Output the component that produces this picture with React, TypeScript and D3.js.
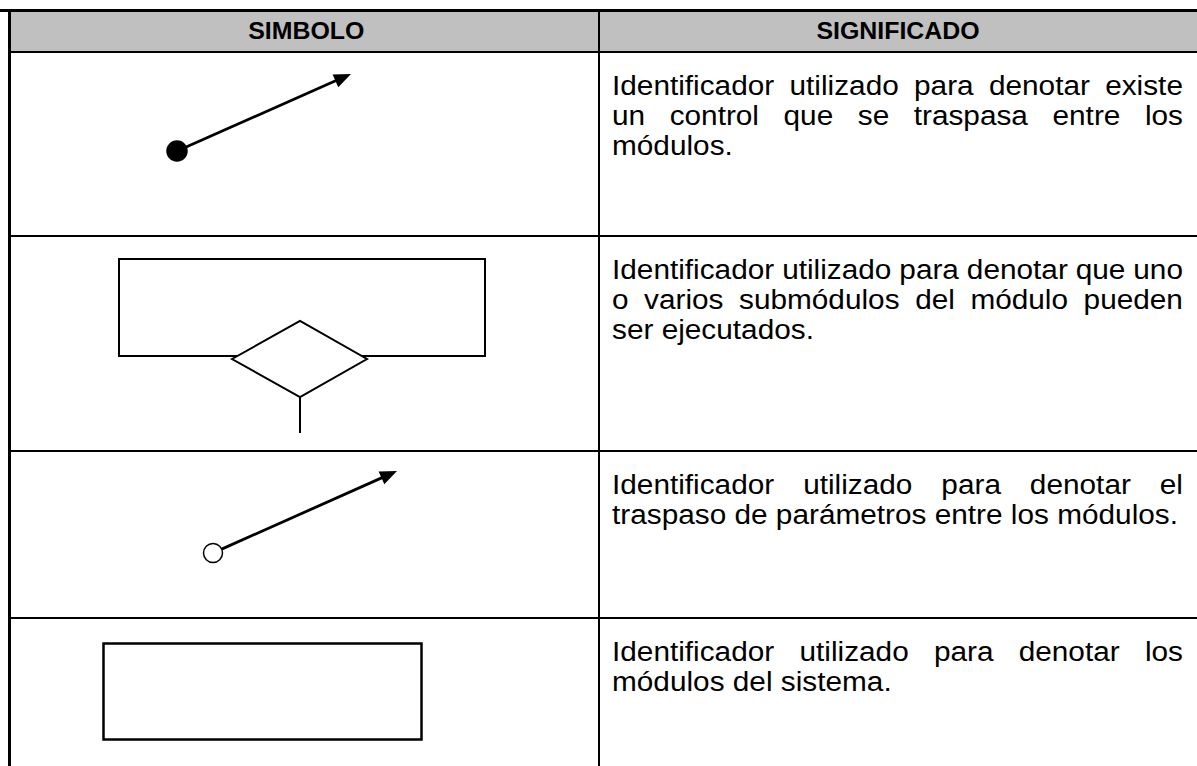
import React from "react";
import * as d3 from "d3";

const headers = ["SIMBOLO", "SIGNIFICADO"];
const symbols = ["control", "selection", "params", "module"];
const meanings = [
  ["Identificador utilizado para denotar existe", "un control que se traspasa entre los", "módulos."],
  ["Identificador utilizado para denotar que uno", "o varios submódulos del módulo pueden", "ser ejecutados."],
  ["Identificador utilizado para denotar el", "traspaso de parámetros entre los módulos."],
  ["Identificador utilizado para denotar los", "módulos del sistema."],
];

const W = 1197;
const H = 766;
const FONT = "'Liberation Sans', Arial, Helvetica, sans-serif";
const bodySize = 28;
const sx = 1.064;
const headSize = 23.5;
const headSx = 1.06;

// row boundaries (header bottom, then each row)
const rowEdges = [52, 236, 451, 618, 800];
const colX = [9.5, 599, W];
const textLeft = 612;
const textRight = 1183;

let ctx: CanvasRenderingContext2D | null = null;
function measure(s: string) {
  if (!ctx) {
    ctx = document.createElement("canvas").getContext("2d");
    if (ctx) ctx.font = `${bodySize}px 'Liberation Sans', Arial, sans-serif`;
  }
  return ctx ? ctx.measureText(s).width : s.length * bodySize * 0.5;
}

function JustifiedLine({ text, y, last }: { text: string; y: number; last: boolean }) {
  const avail = (textRight - textLeft) / sx;
  const words = text.split(" ");
  if (last || words.length < 2) {
    return (
      <text x={0} y={y} transform={`translate(${textLeft},0) scale(${sx},1)`}>
        {text}
      </text>
    );
  }
  const widths = words.map(measure);
  const gap = (avail - d3.sum(widths)) / (words.length - 1);
  let x = 0;
  const xs = widths.map((w) => {
    const cur = x;
    x += w + gap;
    return cur;
  });
  return (
    <g transform={`translate(${textLeft},0) scale(${sx},1)`}>
      {words.map((w, i) => (
        <text key={i} x={xs[i]} y={y}>
          {w}
        </text>
      ))}
    </g>
  );
}

function Arrow({ from, to, r, filled }: { from: [number, number]; to: [number, number]; r: number; filled: boolean }) {
  const ang = Math.atan2(to[1] - from[1], to[0] - from[0]);
  const len = 17;
  const hw = 7;
  const bx = to[0] - len * Math.cos(ang);
  const by = to[1] - len * Math.sin(ang);
  const nx = -Math.sin(ang);
  const ny = Math.cos(ang);
  const head: [number, number][] = [
    to,
    [bx + nx * hw, by + ny * hw],
    [bx - nx * hw, by - ny * hw],
  ];
  const sx0 = from[0] + r * Math.cos(ang);
  const sy0 = from[1] + r * Math.sin(ang);
  const line = d3.line();
  return (
    <g>
      <path d={line([[sx0, sy0], [bx + 2 * Math.cos(ang), by + 2 * Math.sin(ang)]]) || ""} stroke="#000" strokeWidth={2.8} fill="none" />
      <path d={(line(head) || "") + "Z"} fill="#000" />
      <circle cx={from[0]} cy={from[1]} r={r} fill={filled ? "#000" : "#fff"} stroke="#000" strokeWidth={1.5} />
    </g>
  );
}

function Symbol({ kind }: { kind: string }) {
  if (kind === "control") return <Arrow from={[177, 151]} to={[351, 74]} r={10} filled />;
  if (kind === "params") return <Arrow from={[213, 553]} to={[397, 471]} r={9.5} filled={false} />;
  if (kind === "selection") {
    const diamond: [number, number][] = [[232, 359], [300, 321], [367, 359], [300, 397]];
    return (
      <g stroke="#000" strokeWidth={2} fill="none">
        <rect x={119} y={259} width={366} height={97} />
        <path d={(d3.line()(diamond) || "") + "Z"} fill="#fff" />
        <line x1={300} y1={397} x2={300} y2={433} />
      </g>
    );
  }
  return <rect x={103.5} y={643.5} width={318} height={96} stroke="#000" strokeWidth={2.5} fill="none" />;
}

export default function App() {
  const lineStep = 30;
  return (
    <svg width={W} height={H} style={{ position: "absolute", left: 0, top: 0 }} fontFamily={FONT}>
      <rect x={0} y={0} width={W} height={H} fill="#fff" />
      <rect x={colX[0]} y={10.5} width={W - colX[0]} height={rowEdges[0] - 10.5} fill="#c0c0c0" />
      <g fontWeight="bold" fontSize={headSize} textAnchor="middle" fill="#000">
        {headers.map((h, i) => {
          const cx = (colX[i] + colX[i + 1]) / 2 + (i === 0 ? 2 : 0);
          return (
            <text key={h} x={0} y={39.5} transform={`translate(${cx},0) scale(${headSx},1)`}>
              {h}
            </text>
          );
        })}
      </g>
      {/* grid lines */}
      <g stroke="#000">
        <line x1={0} x2={W} y1={10.5} y2={10.5} strokeWidth={3} />
        <line x1={9.5} x2={9.5} y1={9} y2={H} strokeWidth={3} />
        <line x1={599} x2={599} y1={10} y2={H} strokeWidth={2} />
        {rowEdges.slice(0, 4).map((y) => (
          <line key={y} x1={9} x2={W} y1={y} y2={y} strokeWidth={2} />
        ))}
      </g>
      {symbols.map((s) => (
        <Symbol key={s} kind={s} />
      ))}
      <g fontSize={bodySize} fill="#000">
        {meanings.map((lines, r) =>
          lines.map((t, j) => (
            <JustifiedLine key={`${r}-${j}`} text={t} y={rowEdges[r] + 43 + j * lineStep} last={j === lines.length - 1} />
          ))
        )}
      </g>
    </svg>
  );
}
